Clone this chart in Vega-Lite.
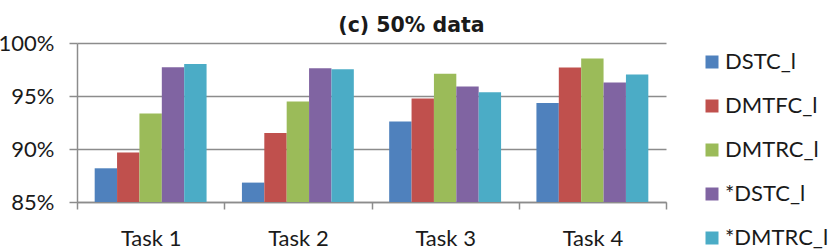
{
  "$schema": "https://vega.github.io/schema/vega-lite/v6.json",
  "width": 589,
  "height": 159,
  "autosize": {"type": "none"},
  "padding": {"left": 77, "top": 43, "right": 165, "bottom": 48},
  "background": "white",
  "title": {
    "text": "(c) 50% data",
    "font": "DejaVu Sans",
    "fontSize": 20.5,
    "fontWeight": "bold",
    "color": "#1a1a1a",
    "anchor": "middle",
    "baseline": "alphabetic",
    "offset": 3,
    "dx": 40,
    "dy": 23
  },
  "config": {
    "view": {"stroke": null},
    "font": "Lato"
  },
  "data": {
    "values": [
      {"task": "Task 1", "method": "DSTC_l", "acc": 88.18},
      {"task": "Task 1", "method": "DMTFC_l", "acc": 89.68},
      {"task": "Task 1", "method": "DMTRC_l", "acc": 93.35},
      {"task": "Task 1", "method": "*DSTC_l", "acc": 97.71},
      {"task": "Task 1", "method": "*DMTRC_l", "acc": 98.02},
      {"task": "Task 2", "method": "DSTC_l", "acc": 86.83},
      {"task": "Task 2", "method": "DMTFC_l", "acc": 91.5},
      {"task": "Task 2", "method": "DMTRC_l", "acc": 94.48},
      {"task": "Task 2", "method": "*DSTC_l", "acc": 97.62},
      {"task": "Task 2", "method": "*DMTRC_l", "acc": 97.52},
      {"task": "Task 3", "method": "DSTC_l", "acc": 92.6},
      {"task": "Task 3", "method": "DMTFC_l", "acc": 94.76},
      {"task": "Task 3", "method": "DMTRC_l", "acc": 97.11},
      {"task": "Task 3", "method": "*DSTC_l", "acc": 95.89},
      {"task": "Task 3", "method": "*DMTRC_l", "acc": 95.36},
      {"task": "Task 4", "method": "DSTC_l", "acc": 94.33},
      {"task": "Task 4", "method": "DMTFC_l", "acc": 97.68},
      {"task": "Task 4", "method": "DMTRC_l", "acc": 98.53},
      {"task": "Task 4", "method": "*DSTC_l", "acc": 96.27},
      {"task": "Task 4", "method": "*DMTRC_l", "acc": 97.02}
    ]
  },
  "mark": {"type": "bar"},
  "encoding": {
    "x": {
      "field": "task",
      "type": "nominal",
      "scale": {"paddingInner": 0, "paddingOuter": 0},
      "axis": {
        "title": null,
        "labelAngle": 0,
        "labelFontSize": 22,
        "labelColor": "#1a1a1a",
        "labelPadding": 19,
        "tickBand": "extent",
        "tickSize": 7,
        "tickColor": "#8c8c8c",
        "tickWidth": 1.5,
        "domainColor": "#8c8c8c",
        "domainWidth": 1.5
      }
    },
    "xOffset": {
      "field": "method",
      "type": "nominal",
      "sort": ["DSTC_l", "DMTFC_l", "DMTRC_l", "*DSTC_l", "*DMTRC_l"],
      "scale": {"paddingInner": 0, "paddingOuter": 0.79}
    },
    "y": {
      "field": "acc",
      "type": "quantitative",
      "stack": null,
      "scale": {"domain": [85, 100], "zero": false, "nice": false},
      "axis": {
        "title": null,
        "values": [85, 90, 95, 100],
        "labelExpr": "datum.value + '%'",
        "labelFontSize": 22,
        "labelColor": "#1a1a1a",
        "labelPadding": 15,
        "tickSize": 8,
        "tickColor": "#8c8c8c",
        "tickWidth": 1.5,
        "domainColor": "#8c8c8c",
        "domainWidth": 1.5,
        "grid": true,
        "gridColor": "#8c8c8c",
        "gridWidth": 1.5
      }
    },
    "y2": {"datum": 85},
    "color": {
      "field": "method",
      "type": "nominal",
      "scale": {
        "domain": ["DSTC_l", "DMTFC_l", "DMTRC_l", "*DSTC_l", "*DMTRC_l"],
        "range": ["#4F81BD", "#C0504D", "#9BBB59", "#8064A2", "#4BACC6"]
      },
      "legend": {
        "title": null,
        "orient": "none",
        "legendX": 624,
        "legendY": 8,
        "symbolType": "square",
        "symbolSize": 169,
        "symbolStrokeWidth": 0,
        "labelFontSize": 22,
        "labelColor": "#1a1a1a",
        "labelOffset": 2,
        "rowPadding": 22,
        "padding": 0
      }
    }
  }
}
